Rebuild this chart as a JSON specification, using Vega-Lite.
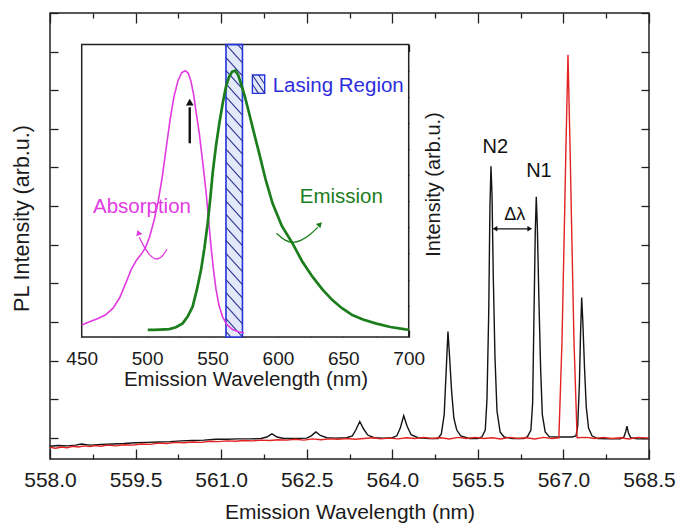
{
  "$schema": "https://vega.github.io/schema/vega-lite/v6.json",
  "width": 599,
  "height": 446,
  "autosize": {"type": "none"},
  "padding": {"left": 50, "top": 13, "right": 28, "bottom": 65},
  "background": "white",
  "config": {
    "view": {"stroke": "#222222", "strokeWidth": 1.5},
    "font": "Liberation Sans",
    "axis": {"domain": false, "grid": false, "tickColor": "#222222", "tickWidth": 1.3, "labelColor": "#1a1a1a", "titleColor": "#1a1a1a", "titleFontWeight": "normal", "labelFont": "Liberation Sans", "titleFont": "Liberation Sans", "labelOverlap": false, "labelFlush": false, "labelBound": false}
  },
  "datasets": {
    "spectra": [
      {"s": "b", "wl": 558.00, "I": -0.22}, {"s": "b", "wl": 558.15, "I": -0.20}, {"s": "b", "wl": 558.30, "I": -0.21}, {"s": "b", "wl": 558.45, "I": -0.19}, {"s": "b", "wl": 558.55, "I": -0.16}, {"s": "b", "wl": 558.70, "I": -0.19}, {"s": "b", "wl": 558.90, "I": -0.17}, {"s": "b", "wl": 559.10, "I": -0.16}, {"s": "b", "wl": 559.30, "I": -0.15}, {"s": "b", "wl": 559.50, "I": -0.13}, {"s": "b", "wl": 559.70, "I": -0.12}, {"s": "b", "wl": 559.90, "I": -0.11}, {"s": "b", "wl": 560.10, "I": -0.10}, {"s": "b", "wl": 560.30, "I": -0.08}, {"s": "b", "wl": 560.50, "I": -0.07}, {"s": "b", "wl": 560.70, "I": -0.06}, {"s": "b", "wl": 560.90, "I": -0.04}, {"s": "b", "wl": 561.10, "I": -0.04}, {"s": "b", "wl": 561.30, "I": -0.03}, {"s": "b", "wl": 561.50, "I": -0.03}, {"s": "b", "wl": 561.70, "I": -0.02}, {"s": "b", "wl": 561.80, "I": 0.02}, {"s": "b", "wl": 561.89, "I": 0.10}, {"s": "b", "wl": 561.98, "I": 0.02}, {"s": "b", "wl": 562.10, "I": -0.02}, {"s": "b", "wl": 562.30, "I": -0.02}, {"s": "b", "wl": 562.50, "I": -0.01}, {"s": "b", "wl": 562.58, "I": 0.05}, {"s": "b", "wl": 562.66, "I": 0.15}, {"s": "b", "wl": 562.74, "I": 0.06}, {"s": "b", "wl": 562.85, "I": 0.0}, {"s": "b", "wl": 563.00, "I": -0.01}, {"s": "b", "wl": 563.20, "I": 0.0}, {"s": "b", "wl": 563.30, "I": 0.05}, {"s": "b", "wl": 563.36, "I": 0.2}, {"s": "b", "wl": 563.43, "I": 0.42}, {"s": "b", "wl": 563.50, "I": 0.22}, {"s": "b", "wl": 563.57, "I": 0.07}, {"s": "b", "wl": 563.68, "I": 0.0}, {"s": "b", "wl": 563.85, "I": -0.01}, {"s": "b", "wl": 564.00, "I": 0.0}, {"s": "b", "wl": 564.08, "I": 0.05}, {"s": "b", "wl": 564.14, "I": 0.25}, {"s": "b", "wl": 564.20, "I": 0.57}, {"s": "b", "wl": 564.26, "I": 0.3}, {"s": "b", "wl": 564.33, "I": 0.08}, {"s": "b", "wl": 564.45, "I": 0.0}, {"s": "b", "wl": 564.65, "I": -0.02}, {"s": "b", "wl": 564.80, "I": -0.02}, {"s": "b", "wl": 564.86, "I": 0.1}, {"s": "b", "wl": 564.91, "I": 0.6}, {"s": "b", "wl": 564.95, "I": 1.9}, {"s": "b", "wl": 564.976, "I": 2.75}, {"s": "b", "wl": 565.00, "I": 2.2}, {"s": "b", "wl": 565.04, "I": 1.2}, {"s": "b", "wl": 565.08, "I": 0.5}, {"s": "b", "wl": 565.13, "I": 0.2}, {"s": "b", "wl": 565.20, "I": 0.05}, {"s": "b", "wl": 565.35, "I": -0.02}, {"s": "b", "wl": 565.50, "I": -0.02}, {"s": "b", "wl": 565.57, "I": 0.02}, {"s": "b", "wl": 565.63, "I": 0.2}, {"s": "b", "wl": 565.66, "I": 1.0}, {"s": "b", "wl": 565.69, "I": 3.2}, {"s": "b", "wl": 565.712, "I": 6.0}, {"s": "b", "wl": 565.730, "I": 7.03}, {"s": "b", "wl": 565.748, "I": 6.3}, {"s": "b", "wl": 565.77, "I": 4.2}, {"s": "b", "wl": 565.80, "I": 2.1}, {"s": "b", "wl": 565.835, "I": 0.7}, {"s": "b", "wl": 565.89, "I": 0.15}, {"s": "b", "wl": 565.96, "I": 0.02}, {"s": "b", "wl": 566.10, "I": -0.02}, {"s": "b", "wl": 566.30, "I": -0.02}, {"s": "b", "wl": 566.37, "I": 0.03}, {"s": "b", "wl": 566.43, "I": 0.2}, {"s": "b", "wl": 566.46, "I": 0.9}, {"s": "b", "wl": 566.48, "I": 2.8}, {"s": "b", "wl": 566.506, "I": 5.3}, {"s": "b", "wl": 566.524, "I": 6.24}, {"s": "b", "wl": 566.542, "I": 5.5}, {"s": "b", "wl": 566.57, "I": 3.6}, {"s": "b", "wl": 566.60, "I": 1.8}, {"s": "b", "wl": 566.63, "I": 0.6}, {"s": "b", "wl": 566.68, "I": 0.15}, {"s": "b", "wl": 566.75, "I": 0.03}, {"s": "b", "wl": 566.85, "I": 0.02}, {"s": "b", "wl": 567.00, "I": 0.02}, {"s": "b", "wl": 567.15, "I": 0.02}, {"s": "b", "wl": 567.22, "I": 0.05}, {"s": "b", "wl": 567.25, "I": 0.3}, {"s": "b", "wl": 567.28, "I": 1.4}, {"s": "b", "wl": 567.30, "I": 2.7}, {"s": "b", "wl": 567.32, "I": 3.63}, {"s": "b", "wl": 567.34, "I": 3.0}, {"s": "b", "wl": 567.37, "I": 1.8}, {"s": "b", "wl": 567.40, "I": 0.8}, {"s": "b", "wl": 567.44, "I": 0.25}, {"s": "b", "wl": 567.50, "I": 0.05}, {"s": "b", "wl": 567.60, "I": -0.02}, {"s": "b", "wl": 567.80, "I": -0.03}, {"s": "b", "wl": 568.00, "I": -0.03}, {"s": "b", "wl": 568.06, "I": 0.02}, {"s": "b", "wl": 568.09, "I": 0.15}, {"s": "b", "wl": 568.114, "I": 0.3}, {"s": "b", "wl": 568.14, "I": 0.12}, {"s": "b", "wl": 568.18, "I": 0.0}, {"s": "b", "wl": 568.30, "I": -0.03}, {"s": "b", "wl": 568.50, "I": -0.03},
      {"s": "r", "wl": 558.00, "I": -0.25}, {"s": "r", "wl": 558.10, "I": -0.27}, {"s": "r", "wl": 558.20, "I": -0.24}, {"s": "r", "wl": 558.30, "I": -0.26}, {"s": "r", "wl": 558.40, "I": -0.22}, {"s": "r", "wl": 558.50, "I": -0.24}, {"s": "r", "wl": 558.60, "I": -0.21}, {"s": "r", "wl": 558.70, "I": -0.23}, {"s": "r", "wl": 558.80, "I": -0.20}, {"s": "r", "wl": 558.90, "I": -0.22}, {"s": "r", "wl": 559.00, "I": -0.19}, {"s": "r", "wl": 559.15, "I": -0.21}, {"s": "r", "wl": 559.30, "I": -0.18}, {"s": "r", "wl": 559.45, "I": -0.19}, {"s": "r", "wl": 559.60, "I": -0.16}, {"s": "r", "wl": 559.75, "I": -0.17}, {"s": "r", "wl": 559.90, "I": -0.14}, {"s": "r", "wl": 560.05, "I": -0.15}, {"s": "r", "wl": 560.20, "I": -0.12}, {"s": "r", "wl": 560.35, "I": -0.13}, {"s": "r", "wl": 560.50, "I": -0.11}, {"s": "r", "wl": 560.65, "I": -0.12}, {"s": "r", "wl": 560.80, "I": -0.09}, {"s": "r", "wl": 560.95, "I": -0.10}, {"s": "r", "wl": 561.10, "I": -0.08}, {"s": "r", "wl": 561.25, "I": -0.09}, {"s": "r", "wl": 561.40, "I": -0.07}, {"s": "r", "wl": 561.55, "I": -0.08}, {"s": "r", "wl": 561.70, "I": -0.06}, {"s": "r", "wl": 561.85, "I": -0.07}, {"s": "r", "wl": 562.00, "I": -0.05}, {"s": "r", "wl": 562.15, "I": -0.06}, {"s": "r", "wl": 562.30, "I": -0.04}, {"s": "r", "wl": 562.45, "I": -0.06}, {"s": "r", "wl": 562.60, "I": -0.03}, {"s": "r", "wl": 562.75, "I": -0.05}, {"s": "r", "wl": 562.90, "I": -0.03}, {"s": "r", "wl": 563.05, "I": -0.04}, {"s": "r", "wl": 563.20, "I": -0.02}, {"s": "r", "wl": 563.35, "I": -0.04}, {"s": "r", "wl": 563.50, "I": -0.02}, {"s": "r", "wl": 563.65, "I": 0.0}, {"s": "r", "wl": 563.80, "I": -0.03}, {"s": "r", "wl": 563.95, "I": -0.01}, {"s": "r", "wl": 564.10, "I": -0.03}, {"s": "r", "wl": 564.25, "I": 0.0}, {"s": "r", "wl": 564.40, "I": -0.02}, {"s": "r", "wl": 564.55, "I": 0.01}, {"s": "r", "wl": 564.70, "I": -0.02}, {"s": "r", "wl": 564.85, "I": 0.0}, {"s": "r", "wl": 565.00, "I": -0.03}, {"s": "r", "wl": 565.15, "I": 0.01}, {"s": "r", "wl": 565.30, "I": -0.02}, {"s": "r", "wl": 565.45, "I": 0.01}, {"s": "r", "wl": 565.60, "I": -0.02}, {"s": "r", "wl": 565.75, "I": 0.0}, {"s": "r", "wl": 565.90, "I": -0.03}, {"s": "r", "wl": 566.05, "I": 0.01}, {"s": "r", "wl": 566.20, "I": -0.02}, {"s": "r", "wl": 566.35, "I": 0.0}, {"s": "r", "wl": 566.50, "I": -0.03}, {"s": "r", "wl": 566.65, "I": 0.01}, {"s": "r", "wl": 566.80, "I": -0.02}, {"s": "r", "wl": 566.92, "I": 0.0}, {"s": "r", "wl": 566.975, "I": 2.5}, {"s": "r", "wl": 567.01, "I": 5.0}, {"s": "r", "wl": 567.045, "I": 7.6}, {"s": "r", "wl": 567.08, "I": 9.92}, {"s": "r", "wl": 567.115, "I": 7.6}, {"s": "r", "wl": 567.15, "I": 5.0}, {"s": "r", "wl": 567.185, "I": 2.5}, {"s": "r", "wl": 567.24, "I": 0.0}, {"s": "r", "wl": 567.40, "I": 0.01}, {"s": "r", "wl": 567.55, "I": -0.02}, {"s": "r", "wl": 567.70, "I": 0.01}, {"s": "r", "wl": 567.85, "I": -0.02}, {"s": "r", "wl": 568.00, "I": 0.0}, {"s": "r", "wl": 568.15, "I": -0.03}, {"s": "r", "wl": 568.30, "I": 0.01}, {"s": "r", "wl": 568.50, "I": -0.01}
    ],
    "inset": [
      {"s": "abs", "wl": 450, "y": 0.26}, {"s": "abs", "wl": 456, "y": 0.38}, {"s": "abs", "wl": 462, "y": 0.5}, {"s": "abs", "wl": 468, "y": 0.64}, {"s": "abs", "wl": 474, "y": 0.9}, {"s": "abs", "wl": 479, "y": 1.3}, {"s": "abs", "wl": 484, "y": 1.9}, {"s": "abs", "wl": 488, "y": 2.4}, {"s": "abs", "wl": 492, "y": 2.75}, {"s": "abs", "wl": 496, "y": 3.0}, {"s": "abs", "wl": 499, "y": 3.25}, {"s": "abs", "wl": 502, "y": 3.65}, {"s": "abs", "wl": 505.5, "y": 4.3}, {"s": "abs", "wl": 508.5, "y": 5.0}, {"s": "abs", "wl": 511.5, "y": 5.9}, {"s": "abs", "wl": 514.5, "y": 7.0}, {"s": "abs", "wl": 517.5, "y": 8.1}, {"s": "abs", "wl": 520.5, "y": 9.0}, {"s": "abs", "wl": 523.5, "y": 9.6}, {"s": "abs", "wl": 526.5, "y": 9.93}, {"s": "abs", "wl": 529.3, "y": 10.0}, {"s": "abs", "wl": 531.5, "y": 9.9}, {"s": "abs", "wl": 533.5, "y": 9.6}, {"s": "abs", "wl": 535.5, "y": 9.1}, {"s": "abs", "wl": 537.5, "y": 8.4}, {"s": "abs", "wl": 539.9, "y": 7.6}, {"s": "abs", "wl": 542.5, "y": 6.5}, {"s": "abs", "wl": 545, "y": 5.4}, {"s": "abs", "wl": 547, "y": 4.3}, {"s": "abs", "wl": 548.8, "y": 3.3}, {"s": "abs", "wl": 550.7, "y": 2.4}, {"s": "abs", "wl": 552.6, "y": 1.65}, {"s": "abs", "wl": 555, "y": 1.0}, {"s": "abs", "wl": 557.7, "y": 0.57}, {"s": "abs", "wl": 561, "y": 0.27}, {"s": "abs", "wl": 565.3, "y": 0.08}, {"s": "abs", "wl": 570, "y": 0.0}, {"s": "abs", "wl": 574, "y": -0.05},
      {"s": "em", "wl": 500.5, "y": 0.07}, {"s": "em", "wl": 505, "y": 0.07}, {"s": "em", "wl": 510, "y": 0.08}, {"s": "em", "wl": 517, "y": 0.1}, {"s": "em", "wl": 522, "y": 0.17}, {"s": "em", "wl": 527.2, "y": 0.32}, {"s": "em", "wl": 531, "y": 0.58}, {"s": "em", "wl": 534.8, "y": 0.96}, {"s": "em", "wl": 538, "y": 1.6}, {"s": "em", "wl": 541.2, "y": 2.36}, {"s": "em", "wl": 543.8, "y": 3.2}, {"s": "em", "wl": 546.3, "y": 4.15}, {"s": "em", "wl": 548.3, "y": 5.1}, {"s": "em", "wl": 550.1, "y": 6.07}, {"s": "em", "wl": 552.6, "y": 7.1}, {"s": "em", "wl": 555.2, "y": 7.98}, {"s": "em", "wl": 557.8, "y": 8.75}, {"s": "em", "wl": 560.3, "y": 9.39}, {"s": "em", "wl": 562.5, "y": 9.75}, {"s": "em", "wl": 564.9, "y": 9.96}, {"s": "em", "wl": 567.4, "y": 10.0}, {"s": "em", "wl": 569.5, "y": 9.85}, {"s": "em", "wl": 571.8, "y": 9.5}, {"s": "em", "wl": 574.8, "y": 9.0}, {"s": "em", "wl": 578.0, "y": 8.37}, {"s": "em", "wl": 581.8, "y": 7.6}, {"s": "em", "wl": 585.7, "y": 6.83}, {"s": "em", "wl": 590.5, "y": 5.85}, {"s": "em", "wl": 595.9, "y": 4.92}, {"s": "em", "wl": 603, "y": 4.05}, {"s": "em", "wl": 611.1, "y": 3.39}, {"s": "em", "wl": 618.5, "y": 2.7}, {"s": "em", "wl": 626.4, "y": 2.11}, {"s": "em", "wl": 634, "y": 1.62}, {"s": "em", "wl": 641.6, "y": 1.21}, {"s": "em", "wl": 649, "y": 0.9}, {"s": "em", "wl": 656.9, "y": 0.64}, {"s": "em", "wl": 665, "y": 0.47}, {"s": "em", "wl": 674.7, "y": 0.32}, {"s": "em", "wl": 686, "y": 0.18}, {"s": "em", "wl": 697.6, "y": 0.09}, {"s": "em", "wl": 700, "y": 0.08}
    ],
    "hatch": [
      {"x0": 569.3, "y0": 11.0, "x1": 572.9, "y1": 10.8}, {"x0": 560.3, "y0": 11.0, "x1": 572.9, "y1": 10.3}, {"x0": 560.3, "y0": 10.5, "x1": 572.9, "y1": 9.8}, {"x0": 560.3, "y0": 10.0, "x1": 572.9, "y1": 9.3}, {"x0": 560.3, "y0": 9.5, "x1": 572.9, "y1": 8.8}, {"x0": 560.3, "y0": 9.0, "x1": 572.9, "y1": 8.3}, {"x0": 560.3, "y0": 8.5, "x1": 572.9, "y1": 7.8}, {"x0": 560.3, "y0": 8.0, "x1": 572.9, "y1": 7.3}, {"x0": 560.3, "y0": 7.5, "x1": 572.9, "y1": 6.8}, {"x0": 560.3, "y0": 7.0, "x1": 572.9, "y1": 6.3}, {"x0": 560.3, "y0": 6.5, "x1": 572.9, "y1": 5.8}, {"x0": 560.3, "y0": 6.0, "x1": 572.9, "y1": 5.3}, {"x0": 560.3, "y0": 5.5, "x1": 572.9, "y1": 4.8}, {"x0": 560.3, "y0": 5.0, "x1": 572.9, "y1": 4.3}, {"x0": 560.3, "y0": 4.5, "x1": 572.9, "y1": 3.8}, {"x0": 560.3, "y0": 4.0, "x1": 572.9, "y1": 3.3}, {"x0": 560.3, "y0": 3.5, "x1": 572.9, "y1": 2.8}, {"x0": 560.3, "y0": 3.0, "x1": 572.9, "y1": 2.3}, {"x0": 560.3, "y0": 2.5, "x1": 572.9, "y1": 1.8}, {"x0": 560.3, "y0": 2.0, "x1": 572.9, "y1": 1.3}, {"x0": 560.3, "y0": 1.5, "x1": 572.9, "y1": 0.8}, {"x0": 560.3, "y0": 1.0, "x1": 572.9, "y1": 0.3}, {"x0": 560.3, "y0": 0.5, "x1": 572.9, "y1": -0.2}, {"x0": 560.3, "y0": 0.0, "x1": 563.9, "y1": -0.2},
      {"x0": 580.5, "y0": 9.835, "x1": 589.9, "y1": 9.13}, {"x0": 580.5, "y0": 9.48, "x1": 585.2, "y1": 9.13}, {"x0": 585.2, "y0": 9.835, "x1": 589.9, "y1": 9.48}
    ],
    "arrows": [
      {"id": "abs", "wl": 515.2, "y": 3.16}, {"id": "abs", "wl": 510.9, "y": 2.81}, {"id": "abs", "wl": 505.8, "y": 2.75}, {"id": "abs", "wl": 500.7, "y": 3.0}, {"id": "abs", "wl": 496.9, "y": 3.32}, {"id": "abs", "wl": 494.0, "y": 3.62},
      {"id": "em", "wl": 598.9, "y": 3.77}, {"id": "em", "wl": 605.2, "y": 3.49}, {"id": "em", "wl": 611.5, "y": 3.39}, {"id": "em", "wl": 617.9, "y": 3.49}, {"id": "em", "wl": 624.3, "y": 3.7}, {"id": "em", "wl": 630.5, "y": 4.0}
    ]
  },
  "layer": [
    {
      "layer": [
        {
          "data": {"name": "spectra"},
          "mark": {"type": "line", "strokeWidth": 1.4},
          "encoding": {
            "x": {"field": "wl", "type": "quantitative", "scale": {"domain": [558, 568.5], "nice": false, "zero": false},
              "axis": {"orient": "bottom", "values": [558, 559.5, 561, 562.5, 564, 565.5, 567, 568.5], "format": ".1f", "tickSize": -10, "labelPadding": 20, "labelFontSize": 21, "title": "Emission Wavelength (nm)", "titleFontSize": 21, "titleX": 299.5, "titleY": 59, "titleAlign": "center", "titleBaseline": "alphabetic"}},
            "y": {"field": "I", "type": "quantitative", "scale": {"domain": [-0.55, 11], "nice": false, "zero": false},
              "axis": {"orient": "left", "values": [0, 1, 2, 3, 4, 5, 6, 7, 8, 9, 10, 11], "tickSize": -8, "labels": false, "title": "PL Intensity (arb.u.)", "titleFontSize": 21.5, "titleAngle": 270, "titleX": -28, "titleY": 205, "titleAlign": "center", "titleBaseline": "middle"}},
            "color": {"field": "s", "type": "nominal", "scale": {"domain": ["b", "r"], "range": ["#141414", "#e32222"]}, "legend": null}
          }
        },
        {
          "data": {"values": [{"wl": 565.805, "I": 7.38, "t": "N2"}, {"wl": 566.571, "I": 6.74, "t": "N1"}]},
          "mark": {"type": "text", "align": "center", "baseline": "alphabetic", "fontSize": 20, "font": "Liberation Sans", "color": "#111111"},
          "encoding": {
            "x": {"field": "wl", "type": "quantitative", "scale": {"domain": [558, 568.5], "nice": false, "zero": false},
              "axis": {"orient": "bottom", "values": [558.75, 560.25, 561.75, 563.25, 564.75, 566.25, 567.75], "tickSize": -5, "labels": false, "title": null}},
            "y": {"field": "I", "type": "quantitative", "scale": {"domain": [-0.55, 11], "nice": false, "zero": false},
              "axis": {"orient": "right", "values": [0, 1, 2, 3, 4, 5, 6, 7, 8, 9, 10, 11], "tickSize": -8, "labels": false, "title": null}},
            "text": {"field": "t"}
          }
        },
        {
          "data": {"values": [{"a": 565.80, "b": 566.41, "I": 5.41}]},
          "mark": {"type": "rule", "color": "#111111", "strokeWidth": 1.3},
          "encoding": {
            "x": {"field": "a", "type": "quantitative", "scale": {"domain": [558, 568.5], "nice": false, "zero": false},
              "axis": {"orient": "top", "values": [558, 559.5, 561, 562.5, 564, 565.5, 567, 568.5], "tickSize": -10, "labels": false, "title": null}},
            "x2": {"field": "b"},
            "y": {"field": "I", "type": "quantitative", "scale": {"domain": [-0.55, 11], "nice": false, "zero": false}, "axis": null}
          }
        },
        {
          "data": {"values": [{"wl": 565.80, "I": 5.41}]},
          "mark": {"type": "point", "shape": "triangle-left", "filled": true, "size": 30, "color": "#111111", "opacity": 1},
          "encoding": {
            "x": {"field": "wl", "type": "quantitative", "scale": {"domain": [558, 568.5], "nice": false, "zero": false},
              "axis": {"orient": "top", "values": [558.75, 560.25, 561.75, 563.25, 564.75, 566.25, 567.75], "tickSize": -5, "labels": false, "title": null}},
            "y": {"field": "I", "type": "quantitative", "scale": {"domain": [-0.55, 11], "nice": false, "zero": false}, "axis": null}
          }
        },
        {
          "data": {"values": [{"wl": 566.41, "I": 5.41}]},
          "mark": {"type": "point", "shape": "triangle-right", "filled": true, "size": 30, "color": "#111111", "opacity": 1},
          "encoding": {
            "x": {"field": "wl", "type": "quantitative", "scale": {"domain": [558, 568.5], "nice": false, "zero": false}, "axis": null},
            "y": {"field": "I", "type": "quantitative", "scale": {"domain": [-0.55, 11], "nice": false, "zero": false}, "axis": null}
          }
        },
        {
          "data": {"values": [{"wl": 566.145, "I": 5.65, "t": "Δλ"}]},
          "mark": {"type": "text", "align": "center", "baseline": "alphabetic", "fontSize": 18, "font": "Liberation Sans", "color": "#111111"},
          "encoding": {
            "x": {"field": "wl", "type": "quantitative", "scale": {"domain": [558, 568.5], "nice": false, "zero": false}, "axis": null},
            "y": {"field": "I", "type": "quantitative", "scale": {"domain": [-0.55, 11], "nice": false, "zero": false}, "axis": null},
            "text": {"field": "t"}
          }
        }
      ],
      "resolve": {"axis": {"x": "independent", "y": "independent"}}
    },
    {
      "layer": [
        {
          "data": {"values": [{"a": 450, "b": 700, "c": -0.2, "d": 11}]},
          "mark": {"type": "rect", "fill": "white", "stroke": "#222222", "strokeWidth": 1.5},
          "encoding": {
            "x": {"field": "a", "type": "quantitative", "scale": {"domain": [425.76, 883.71], "nice": false, "zero": false},
              "axis": {"orient": "bottom", "offset": -122, "values": [450, 500, 550, 600, 650, 700], "format": "d", "tickSize": -7, "labelPadding": 19, "labelFontSize": 19, "title": "Emission Wavelength (nm)", "titleFontSize": 20.5, "titleX": 195.5, "titleY": 48, "titleAlign": "center", "titleBaseline": "alphabetic"}},
            "x2": {"field": "b"},
            "y": {"field": "c", "type": "quantitative", "scale": {"domain": [-4.877, 12.211], "nice": false, "zero": false},
              "axis": {"orient": "left", "offset": -32, "values": [0, 1, 2, 3, 4, 5, 6, 7, 8, 9, 10, 11], "tickSize": -7, "labels": false, "title": null}},
            "y2": {"field": "d"}
          }
        },
        {
          "data": {"values": [{"a": 560.3, "b": 572.9, "c": -0.2, "d": 11}]},
          "mark": {"type": "rect", "fill": "#e4e9fa", "stroke": "#2233dd", "strokeWidth": 1.6},
          "encoding": {
            "x": {"field": "a", "type": "quantitative", "scale": {"domain": [425.76, 883.71], "nice": false, "zero": false},
              "axis": {"orient": "bottom", "offset": -122, "values": [475, 525, 575, 625, 675], "tickSize": -4, "labels": false, "title": null}},
            "x2": {"field": "b"},
            "y": {"field": "c", "type": "quantitative", "scale": {"domain": [-4.877, 12.211], "nice": false, "zero": false},
              "axis": {"orient": "right", "offset": -240, "values": [0, 1, 2, 3, 4, 5, 6, 7, 8, 9, 10, 11], "tickSize": -7, "labels": false, "title": "Intensity (arb.u.)", "titleFontSize": 20, "titleAngle": 270, "titleX": 24, "titleY": 171, "titleAlign": "center", "titleBaseline": "middle"}},
            "y2": {"field": "d"}
          }
        },
        {
          "data": {"values": [{"a": 580.5, "b": 589.9, "c": 9.13, "d": 9.835}]},
          "mark": {"type": "rect", "fill": "#e4e9fa", "stroke": "#2233dd", "strokeWidth": 1.4},
          "encoding": {
            "x": {"field": "a", "type": "quantitative", "scale": {"domain": [425.76, 883.71], "nice": false, "zero": false},
              "axis": {"orient": "top", "offset": -31.6, "values": [450, 500, 550, 600, 650, 700], "tickSize": -7, "labels": false, "title": null}},
            "x2": {"field": "b"},
            "y": {"field": "c", "type": "quantitative", "scale": {"domain": [-4.877, 12.211], "nice": false, "zero": false}, "axis": null},
            "y2": {"field": "d"}
          }
        },
        {
          "data": {"name": "hatch"},
          "mark": {"type": "rule", "color": "#2a3592", "strokeWidth": 1.1},
          "encoding": {
            "x": {"field": "x0", "type": "quantitative", "scale": {"domain": [425.76, 883.71], "nice": false, "zero": false},
              "axis": {"orient": "top", "offset": -31.6, "values": [475, 525, 575, 625, 675], "tickSize": -4, "labels": false, "title": null}},
            "x2": {"field": "x1"},
            "y": {"field": "y0", "type": "quantitative", "scale": {"domain": [-4.877, 12.211], "nice": false, "zero": false}, "axis": null},
            "y2": {"field": "y1"}
          }
        },
        {
          "data": {"name": "inset"},
          "mark": {"type": "line"},
          "encoding": {
            "x": {"field": "wl", "type": "quantitative", "scale": {"domain": [425.76, 883.71], "nice": false, "zero": false}, "axis": null},
            "y": {"field": "y", "type": "quantitative", "scale": {"domain": [-4.877, 12.211], "nice": false, "zero": false}, "axis": null},
            "color": {"field": "s", "type": "nominal", "scale": {"domain": ["abs", "em", "las"], "range": ["#e03ae0", "#1c7d1c", "#2d2de0"]}, "legend": null},
            "strokeWidth": {"field": "s", "type": "nominal", "scale": {"domain": ["abs", "em"], "range": [1.6, 2.7]}, "legend": null}
          }
        },
        {
          "data": {"name": "arrows"},
          "mark": {"type": "line", "strokeWidth": 1.3, "interpolate": "basis"},
          "encoding": {
            "x": {"field": "wl", "type": "quantitative", "scale": {"domain": [425.76, 883.71], "nice": false, "zero": false}, "axis": null},
            "y": {"field": "y", "type": "quantitative", "scale": {"domain": [-4.877, 12.211], "nice": false, "zero": false}, "axis": null},
            "color": {"field": "id", "type": "nominal", "scale": {"domain": ["abs", "em", "las"], "range": ["#e03ae0", "#1c7d1c", "#2d2de0"]}, "legend": null}
          }
        },
        {
          "data": {"values": [{"wl": 493.3, "y": 3.8}]},
          "mark": {"type": "point", "shape": "triangle-up", "filled": true, "size": 40, "angle": 340, "color": "#e03ae0", "opacity": 1},
          "encoding": {
            "x": {"field": "wl", "type": "quantitative", "scale": {"domain": [425.76, 883.71], "nice": false, "zero": false}, "axis": null},
            "y": {"field": "y", "type": "quantitative", "scale": {"domain": [-4.877, 12.211], "nice": false, "zero": false}, "axis": null}
          }
        },
        {
          "data": {"values": [{"wl": 632.2, "y": 4.12}]},
          "mark": {"type": "point", "shape": "triangle-up", "filled": true, "size": 40, "angle": 45, "color": "#1c7d1c", "opacity": 1},
          "encoding": {
            "x": {"field": "wl", "type": "quantitative", "scale": {"domain": [425.76, 883.71], "nice": false, "zero": false}, "axis": null},
            "y": {"field": "y", "type": "quantitative", "scale": {"domain": [-4.877, 12.211], "nice": false, "zero": false}, "axis": null}
          }
        },
        {
          "data": {"values": [{"wl": 532.6, "a": 7.22, "b": 8.6}]},
          "mark": {"type": "rule", "color": "#111111", "strokeWidth": 2.4},
          "encoding": {
            "x": {"field": "wl", "type": "quantitative", "scale": {"domain": [425.76, 883.71], "nice": false, "zero": false}, "axis": null},
            "y": {"field": "a", "type": "quantitative", "scale": {"domain": [-4.877, 12.211], "nice": false, "zero": false}, "axis": null},
            "y2": {"field": "b"}
          }
        },
        {
          "data": {"values": [{"wl": 532.6, "y": 8.8}]},
          "mark": {"type": "point", "shape": "triangle-up", "filled": true, "size": 60, "color": "#111111", "opacity": 1},
          "encoding": {
            "x": {"field": "wl", "type": "quantitative", "scale": {"domain": [425.76, 883.71], "nice": false, "zero": false}, "axis": null},
            "y": {"field": "y", "type": "quantitative", "scale": {"domain": [-4.877, 12.211], "nice": false, "zero": false}, "axis": null}
          }
        },
        {
          "data": {"values": [{"wl": 458.6, "y": 4.56, "t": "Absorption", "c": "abs"}, {"wl": 616.7, "y": 4.93, "t": "Emission", "c": "em"}, {"wl": 596.0, "y": 9.2, "t": "Lasing Region", "c": "las"}]},
          "mark": {"type": "text", "align": "left", "baseline": "alphabetic", "fontSize": 20.5, "font": "Liberation Sans"},
          "encoding": {
            "x": {"field": "wl", "type": "quantitative", "scale": {"domain": [425.76, 883.71], "nice": false, "zero": false}, "axis": null},
            "y": {"field": "y", "type": "quantitative", "scale": {"domain": [-4.877, 12.211], "nice": false, "zero": false}, "axis": null},
            "color": {"field": "c", "type": "nominal", "scale": {"domain": ["abs", "em", "las"], "range": ["#e03ae0", "#1c7d1c", "#2d2de0"]}, "legend": null},
            "text": {"field": "t"}
          }
        }
      ],
      "resolve": {"axis": {"x": "independent", "y": "independent"}}
    }
  ],
  "resolve": {"scale": {"x": "independent", "y": "independent", "color": "independent", "strokeWidth": "independent"}, "axis": {"x": "independent", "y": "independent"}}
}
